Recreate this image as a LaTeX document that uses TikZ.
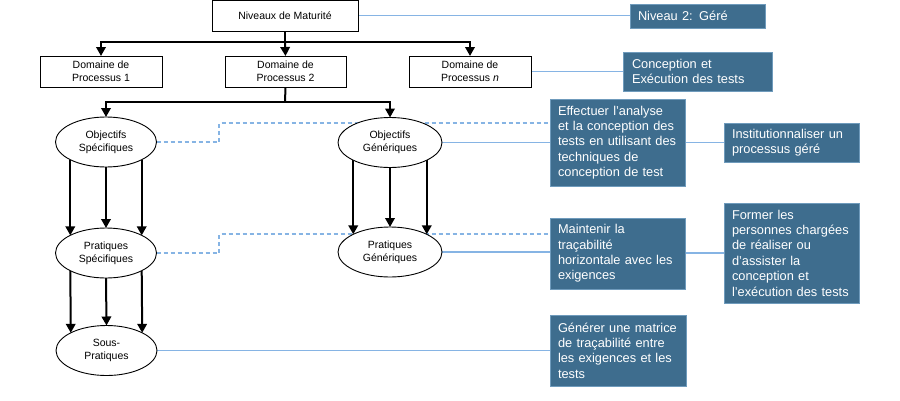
\documentclass[tikz,border=0pt]{standalone}
\usepackage{fontspec}
\setmainfont{Liberation Sans}
\usetikzlibrary{arrows.meta,shapes.geometric,backgrounds,calc}
\definecolor{boxblue}{HTML}{3E6D8E}
\definecolor{boxedge}{HTML}{6F9BBC}
\definecolor{linkblue}{HTML}{86B4E4}
\begin{document}
\begin{tikzpicture}[x=1pt,y=-1pt,
  blackbox/.style={draw=black,line width=0.9pt,fill=white,align=center,inner sep=0pt,outer sep=0pt,
    font=\fontsize{10.5}{13}\selectfont},
  ell/.style={ellipse,draw=black,line width=0.9pt,fill=white,align=center,inner sep=0pt,outer sep=0pt,
    minimum width=101pt,minimum height=50pt,font=\fontsize{10.5}{13}\selectfont},
  bluebox/.style={fill=boxblue,draw=boxedge,line width=0.7pt,text=white,align=left,anchor=north west,
    inner xsep=8pt,inner ysep=0pt,outer sep=0pt,font=\fontsize{12.8}{15.4}\selectfont},
  arr/.style={line width=2pt,-{Triangle[length=9pt,width=9.5pt]}},
  bline/.style={line width=2pt},
  link/.style={draw=linkblue,line width=1.1pt},
  dlink/.style={draw=linkblue,line width=1.1pt,dash pattern=on 4pt off 3pt}]
\useasboundingbox (0,0) rectangle (900,400);

% black boxes
\node[blackbox,minimum width=146pt,minimum height=31pt] (top) at (285,15.5) {Niveaux de Maturité};
\node[blackbox,minimum width=122pt,minimum height=31pt] (d1) at (101,71.5) {Domaine de\\Processus 1};
\node[blackbox,minimum width=121pt,minimum height=31pt] (d2) at (285.5,71.5) {Domaine de\\Processus 2};
\node[blackbox,minimum width=122pt,minimum height=31pt] (dn) at (470,71.5) {Domaine de\\Processus \textit{n}};

% ellipses
\node[ell] (os) at (106,142) {Objectifs\\Spécifiques};
\node[ell] (ps) at (106,253) {Pratiques\\Spécifiques};
\node[ell] (sp) at (106.5,350.5) {Sous-\\Pratiques};
\node[ell,minimum width=104pt] (og) at (390,142.5) {Objectifs\\Génériques};
\node[ell,minimum width=104pt] (pg) at (390,252) {Pratiques\\Génériques};

% blue boxes
\node[bluebox,text width=119pt,minimum height=24pt] (niv) at (630,4) {Niveau 2: Géré};
\node[bluebox,inner xsep=9pt,text width=131pt,minimum height=39pt] (conc) at (623,52) {Conception et\\Exécution des tests};
\node[bluebox,text width=119pt,minimum height=87pt] (eff) at (550,99) {Effectuer l’analyse\\et la conception des\\tests en utilisant des\\techniques de\\conception de test};
\node[bluebox,text width=119pt,minimum height=39pt] (inst) at (724,123) {Institutionnaliser un\\processus géré};
\node[bluebox,text width=119pt,minimum height=71pt] (mnt) at (550,218) {Maintenir la\\traçabilité\\horizontale avec les\\exigences};
\node[bluebox,text width=119pt,minimum height=100pt] (frm) at (724,203) {Former les\\personnes chargées\\de réaliser ou\\d’assister la\\conception et\\l’exécution des tests};
\node[bluebox,text width=120pt,minimum height=71pt] (gen) at (550,315) {Générer une matrice\\de traçabilité entre\\les exigences et les\\tests};

\coordinate (j1) at (285,42);
\coordinate (j2) at (285,102);
\coordinate (k1) at (219,123);
\coordinate (k2) at (219,234);

\begin{pgfonlayer}{background}
\fill[white] (0,0) rectangle (900,400);
% light blue links
\draw[link] (top.east) -- (top.east -| niv.west);
\draw[link] (dn.east) -- (dn.east -| conc.west);
\draw[dlink] (os.east) -| (k1) -- (k1 -| eff.west);
\draw[link] (og.east) -- (og.east -| eff.west);
\draw[link] (eff.east |- inst.west) -- (inst.west);
\draw[dlink] (ps.east) -| (k2) -- (k2 -| mnt.west);
\draw[link] (pg.east) -- (pg.east -| mnt.west);
\draw[link] (mnt.east |- frm.west) -- (frm.west);
\draw[link] (sp.east) -- (sp.east -| gen.west);
% black tree
\draw[bline] (top.south) -- (j1);
\draw[arr] (j1) -| (d1.north);
\draw[arr] (j1) -- (d2.north);
\draw[arr] (j1) -| (dn.north);
\draw[bline] (d2.south) -- (j2);
\draw[arr] (j2) -| (os.north);
\draw[arr] (j2) -| (og.north);
\draw[arr] (os.south west) -- (ps.north west);
\draw[arr] (os.south) -- (ps.north);
\draw[arr] (os.south east) -- (ps.north east);
\draw[arr] (ps.south west) -- (sp.north west);
\draw[arr] (ps.south) -- (sp.north);
\draw[arr] (ps.south east) -- (sp.north east);
\draw[arr] (og.south west) -- (pg.north west);
\draw[arr] (og.south) -- (pg.north);
\draw[arr] (og.south east) -- (pg.north east);
\end{pgfonlayer}
\end{tikzpicture}
\end{document}
